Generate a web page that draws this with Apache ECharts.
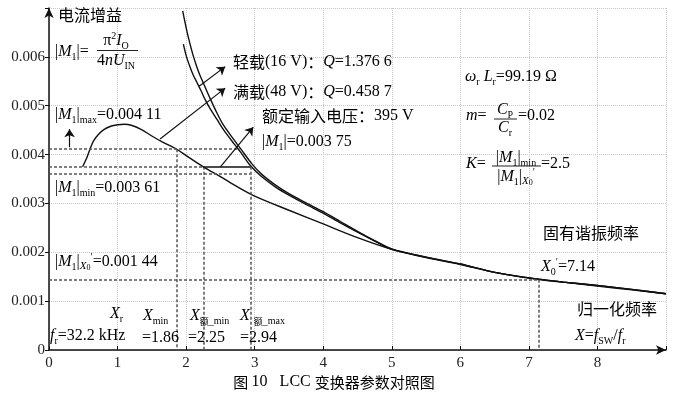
<!DOCTYPE html>
<html>
<head>
<meta charset="utf-8">
<script src="https://cdn.jsdelivr.net/npm/echarts@6/dist/echarts.min.js"></script>
<style>
html, body { margin: 0; padding: 0; background: #fff; }
#myChart { width: 680px; height: 397px; }
</style>
</head>
<body>
<div id="myChart"></div>
<script>
// 读图估计的曲线数据 (X = fsw/fr, |M1|)
const humpX = [0.49, 0.55, 0.60, 0.65, 0.72, 0.80, 0.90, 1.0, 1.1, 1.2, 1.35, 1.5, 1.65, 1.86, 2.0, 2.25, 2.5, 2.75, 3.0, 3.5, 4.0, 4.5, 5.0, 5.5, 6.0, 6.5, 7.14, 7.5, 8.0, 8.5, 9.0]
const humpM = [0.00375, 0.00393, 0.00412, 0.00428, 0.00441, 0.00451, 0.00458, 0.00461, 0.00462, 0.00460, 0.00451, 0.00438, 0.00426, 0.00411, 0.00398, 0.00375, 0.00355, 0.00334, 0.00315, 0.00286, 0.00258, 0.00230, 0.00206, 0.00189, 0.00175, 0.00159, 0.00144, 0.00139, 0.00131, 0.00123, 0.00115]

const upperX = [1.95, 2.0, 2.05, 2.1, 2.15, 2.2, 2.25, 2.35, 2.45, 2.55, 2.7, 2.8, 2.96, 3.1, 3.3, 3.5, 3.75, 4.0, 4.25, 4.5, 4.75, 5.0, 5.5, 6.0, 6.5, 7.14, 7.5, 8.0, 8.5, 9.0]
const upperM = [0.00694, 0.00660, 0.00630, 0.00604, 0.00582, 0.00563, 0.00547, 0.00515, 0.00485, 0.00459, 0.00430, 0.00411, 0.00381, 0.00360, 0.00338, 0.00320, 0.00301, 0.00283, 0.00263, 0.00243, 0.00224, 0.00207, 0.00190, 0.00176, 0.00159, 0.00145, 0.00139, 0.00132, 0.00124, 0.00115]

const lowerX = [1.96, 2.0, 2.06, 2.1, 2.16, 2.22, 2.28, 2.35, 2.45, 2.55, 2.7, 2.8, 2.94, 3.1, 3.3, 3.5, 3.75, 4.0, 4.25, 4.5, 4.75, 5.0, 5.5, 6.0, 6.5, 7.14, 7.5, 8.0, 8.5, 9.0]
const lowerM = [0.00626, 0.00603, 0.00578, 0.00564, 0.00547, 0.00530, 0.00512, 0.00494, 0.00472, 0.00450, 0.00422, 0.00404, 0.00377, 0.00355, 0.00334, 0.00317, 0.00298, 0.00280, 0.00260, 0.00241, 0.00223, 0.00206, 0.00190, 0.00176, 0.00159, 0.00145, 0.00139, 0.00132, 0.00124, 0.00115]

// 参考线: X_min, X额_min, X额_max, X0'
const refX = [1.86, 2.25, 2.94, 7.14]
const refM = [0.00411, 0.00375, 0.00361, 0.00144]

// 注释箭头 [起点, 终点]
const arrows = [
  [[0.30, 0.00415], [0.30, 0.00452]],
  [[1.62, 0.00432], [2.57, 0.00536]],
  [[2.19, 0.00540], [2.57, 0.00580]],
  [[2.50, 0.00375], [2.98, 0.00456]]
]

const xMax = 9
const yMax = 0.007

const C = '#222'
const SERIF = '"Liberation Serif", "Noto Sans CJK SC", serif'
const CJK = '"Noto Sans CJK SC", sans-serif'
const R = {
  n: { fontFamily: SERIF, fontSize: 16, color: C, lineHeight: 20 },
  i: { fontFamily: SERIF, fontSize: 16, fontStyle: 'italic', color: C, lineHeight: 20 },
  s: { fontFamily: SERIF, fontSize: 10, color: C, lineHeight: 10, verticalAlign: 'bottom' },
  si: { fontFamily: SERIF, fontSize: 11, fontStyle: 'italic', color: C, lineHeight: 11, verticalAlign: 'bottom' },
  ss: { fontFamily: SERIF, fontSize: 8, color: C, lineHeight: 6, verticalAlign: 'bottom' },
  p: { fontFamily: SERIF, fontSize: 10, color: C, lineHeight: 10, verticalAlign: 'top' },
  sc: { fontFamily: CJK, fontSize: 9, color: C, lineHeight: 9, verticalAlign: 'bottom' },
  c: { fontFamily: CJK, fontSize: 16, color: C, lineHeight: 20 },
  cap: { fontFamily: CJK, fontSize: 15, color: C, lineHeight: 18 },
  capn: { fontFamily: SERIF, fontSize: 16, color: C, lineHeight: 18 }
}

function T(x, y, text, align) {
  return { type: 'text', x: x, y: y, silent: true, z: 10,
    style: { text: text, rich: R, align: align || 'left', verticalAlign: 'middle' } }
}
function L(x1, y1, x2, y2) {
  return { type: 'line', silent: true, z: 10, shape: { x1: x1, y1: y1, x2: x2, y2: y2 },
    style: { stroke: C, lineWidth: 1 } }
}

const M1 = '{n||}{i|M}{s|1}{n||}'

const notes = [
  T(58, 15, '{c|电流增益}'),
  T(55, 52, M1 + '{n|=}'),
  T(116, 41, '{n|π}{p|2}{i|I}{s|O}', 'center'),
  L(97, 50.5, 138, 50.5),
  T(116, 61, '{n|4}{i|nU}{s|IN}', 'center'),
  T(55, 115, M1 + '{s|max}{n|=0.004 11}'),
  T(55, 188, M1 + '{s|min}{n|=0.003 61}'),
  T(55, 262, M1 + '{si|X}{ss|0}{p|′}{n|=0.001 44}'),
  T(233, 62, '{c|轻载}{n|(16 V)}{c|：}{i|Q}{n|=1.376 6}'),
  T(233, 92, '{c|满载}{n|(48 V)}{c|：}{i|Q}{n|=0.458 7}'),
  T(262, 116, '{c|额定输入电压：}{n|395 V}'),
  T(262, 142, M1 + '{n|=0.003 75}'),
  T(465, 77, '{i|ω}{s|r}{i| L}{s|r}{n|=99.19 Ω}'),
  T(466, 116, '{i|m}{n|=}'),
  T(505, 110, '{i|C}{s|P}', 'center'),
  L(494, 119, 517, 119),
  T(505, 128, '{i|C}{s|r}', 'center'),
  T(518, 116, '{n|=0.02}'),
  T(466, 164, '{i|K}{n|=}'),
  T(516, 158, M1 + '{s|min}', 'center'),
  L(492, 166, 541, 166),
  T(516, 177, M1 + '{si|X}{ss|0}{p|′}', 'center'),
  T(541, 164, '{n|=2.5}'),
  T(543, 233, '{c|固有谐振频率}'),
  T(541, 267, '{i|X}{s|0}{p|′}{n|=7.14}'),
  T(577, 309, '{c|归一化频率}'),
  T(575, 336, '{i|X}{n|=}{i|f}{s|SW}{n|/}{i|f}{s|r}'),
  T(110, 314, '{i|X}{s|r}'),
  T(143, 316, '{i|X}{s|min}'),
  T(190, 316, '{i|X}{sc|额}{s|_min}'),
  T(240, 316, '{i|X}{n| }{sc|额}{s|_max}'),
  T(50, 336, '{i|f}{s|r}{n|=32.2 kHz}'),
  T(142, 338, '{n|=1.86}'),
  T(188, 338, '{n|=2.25}'),
  T(240, 338, '{n|=2.94}'),
  T(334, 382, '{cap|图 }{capn|10   LCC }{cap|变换器参数对照图}', 'center')
]

function pairs(xs, ys) {
  return xs.map((x, k) => [x, ys[k]])
}

// 虚线参考线
const dashed = [
  [[0, refM[0]], [2.78, refM[0]]],
  [[0, refM[1]], [refX[1], refM[1]]],
  [[0, refM[2]], [refX[2], refM[2]]],
  [[0, refM[3]], [refX[3], refM[3]]],
  [[refX[0], refM[0]], [refX[0], 0]],
  [[refX[1], refM[1]], [refX[1], 0]],
  [[refX[2], refM[1]], [refX[2], 0]],
  [[refX[3], refM[3]], [refX[3], 0]]
].map(p => [{ coord: p[0] }, { coord: p[1] }])

const lineBase = {
  type: 'line',
  smooth: 0.3,
  showSymbol: false,
  symbol: 'none',
  silent: true,
  lineStyle: { color: '#111', width: 1.4 }
}

const myChart = echarts.init(document.getElementById('myChart'))
myChart.setOption({
  animation: false,
  backgroundColor: '#fff',
  grid: { left: 49, right: 14, top: 8, bottom: 47 },
  xAxis: {
    type: 'value',
    min: 0,
    max: xMax,
    interval: 1,
    axisLine: { lineStyle: { color: '#111', width: 1.5 }, symbol: ['none', 'arrow'], symbolSize: [7, 10] },
    axisTick: { inside: true, length: 4, lineStyle: { color: '#111' } },
    axisLabel: {
      color: C, fontFamily: SERIF, fontSize: 15, margin: 6,
      formatter: v => (v === xMax ? '' : String(v))
    },
    splitLine: { show: true, lineStyle: { color: '#c8c8c8', type: 'dotted' } }
  },
  yAxis: {
    type: 'value',
    min: 0,
    max: yMax,
    interval: 0.001,
    axisLine: { show: true, lineStyle: { color: '#111', width: 1.5 }, symbol: ['none', 'arrow'], symbolSize: [7, 10] },
    axisTick: { show: true, length: 4, lineStyle: { color: '#111' } },
    axisLabel: {
      color: C, fontFamily: SERIF, fontSize: 15, margin: 4,
      formatter: v => (v === 0 ? '0' : v > 0.0065 ? '' : v.toFixed(3))
    },
    splitLine: { show: true, lineStyle: { color: '#c8c8c8', type: 'dotted' } }
  },
  series: [
    Object.assign({}, lineBase, {
      name: 'hump',
      data: pairs(humpX, humpM),
      markLine: {
        silent: true,
        symbol: 'none',
        label: { show: false },
        lineStyle: { color: '#555', type: [3, 2], width: 1.5 },
        data: dashed
      }
    }),
    Object.assign({}, lineBase, {
      name: 'upper',
      data: pairs(upperX, upperM),
      markLine: {
        silent: true,
        symbol: ['none', 'arrow'],
        symbolSize: 8,
        label: { show: false },
        lineStyle: { color: '#111', type: 'solid', width: 1.2 },
        data: arrows.map(p => [{ coord: p[0] }, { coord: p[1] }])
      }
    }),
    Object.assign({}, lineBase, {
      name: 'lower',
      data: pairs(lowerX, lowerM),
      markLine: {
        silent: true,
        symbol: 'none',
        label: { show: false },
        lineStyle: { color: '#111', type: 'solid', width: 1.6 },
        data: [[{ coord: [refX[1], refM[1]] }, { coord: [refX[2], refM[1]] }]]
      }
    })
  ],
  graphic: notes
})
</script>
</body>
</html>
